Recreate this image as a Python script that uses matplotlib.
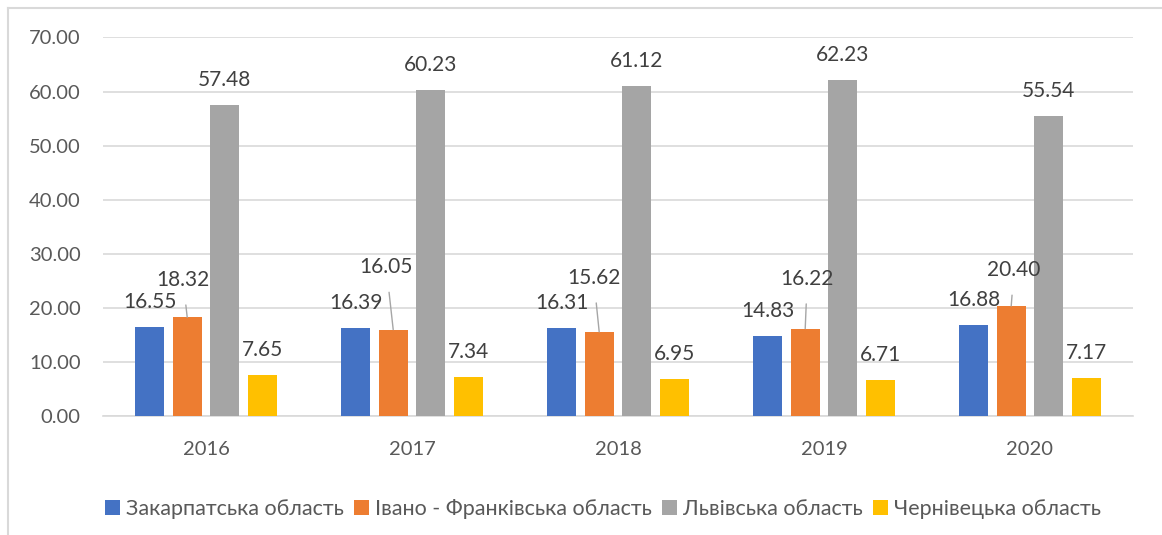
import numpy as np
import matplotlib
matplotlib.use('Agg')
from matplotlib import pyplot as plt
from matplotlib.lines import Line2D

plt.rcParams['font.family'] = ['Lato', 'DejaVu Sans']

years = ['2016', '2017', '2018', '2019', '2020']
series = ['Закарпатська область', 'Івано - Франківська область',
          'Львівська область', 'Чернівецька область']
zakarpattia = [16.55, 16.39, 16.31, 14.83, 16.88]
ivano_frankivsk = [18.32, 16.05, 15.62, 16.22, 20.40]
lviv = [57.48, 60.23, 61.12, 62.23, 55.54]
chernivtsi = [7.65, 7.34, 6.95, 6.71, 7.17]
values = [zakarpattia, ivano_frankivsk, lviv, chernivtsi]
colors = ['#4472C4', '#ED7D31', '#A5A5A5', '#FFC000']

# label offsets (points) for the orange series, which use leader lines
orange_off = [(-3, 27), (-5, 45), (-4, 39), (1.5, 36), (2, 26)]

txt = '#595959'
fig = plt.figure(figsize=(11.62, 5.35), dpi=100)
ax = fig.add_axes([0.0886, 0.2215, 0.8864, 0.7085])

x = np.arange(len(years))
pitch = 0.182
width = 0.141
for i, (vals, c, name) in enumerate(zip(values, colors, series)):
    xs = x + (i - 1.5) * pitch
    ax.bar(xs, vals, width, color=c, label=name, zorder=3)
    for j, (xx, v) in enumerate(zip(xs, vals)):
        if i == 1:
            dx, dy = orange_off[j]
            ax.annotate('%.2f' % v, (xx, v), xytext=(dx, dy), textcoords='offset points',
                        ha='center', va='center', fontsize=15, color='#404040',
                        arrowprops=dict(arrowstyle='-', color='#A6A6A6', lw=1,
                                        shrinkA=9, shrinkB=0), zorder=4)
        else:
            ax.annotate('%.2f' % v, (xx, v), xytext=(0, 18), textcoords='offset points',
                        ha='center', va='center', fontsize=15, color='#404040', zorder=4)

ax.set_xlim(-0.5, 4.5)
ax.set_ylim(0, 70)
ax.set_yticks(np.arange(0, 71, 10))
ax.set_yticklabels(['%.2f' % t for t in np.arange(0, 71, 10)])
ax.set_xticks(x)
ax.set_xticklabels(years)
ax.yaxis.grid(True, color='#D9D9D9', lw=1.2, zorder=0)
for s in ['top', 'right', 'left']:
    ax.spines[s].set_visible(False)
ax.spines['bottom'].set_color('#D9D9D9')
ax.spines['bottom'].set_linewidth(1.2)
ax.tick_params(axis='both', length=0, labelsize=14.5, colors=txt)
ax.tick_params(axis='y', pad=16)
ax.tick_params(axis='x', pad=18)

fig.legend(loc='center', bbox_to_anchor=(0.519, 0.049), ncol=4, frameon=False,
           fontsize=15.5, handlelength=0.7, handleheight=0.7, handletextpad=0.3,
           columnspacing=0.45, labelcolor=txt, borderpad=0)

fig.add_artist(Line2D([0.0069, 0.0069], [0, 0.985], color='#D9D9D9', lw=1.5))
fig.add_artist(Line2D([0.0069, 1], [0.985, 0.985], color='#D9D9D9', lw=1.5))

fig.savefig('out.png', dpi=100)
